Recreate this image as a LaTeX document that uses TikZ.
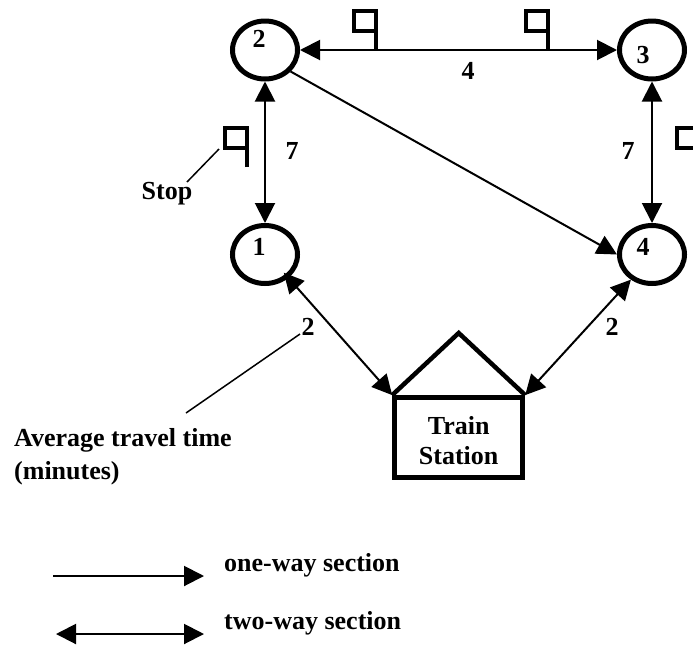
\documentclass[tikz,border=0pt]{standalone}
\usepackage{fontspec}
\setmainfont{Liberation Serif}
\usetikzlibrary{arrows.meta,shapes.geometric}
\tikzset{
  x=1pt,y=-1pt,
  stopnode/.style={draw,ellipse,line width=5pt,minimum width=65pt,minimum height=58pt,inner sep=0pt,outer sep=2.5pt},
  lab/.style={font=\fontsize{26}{30}\selectfont\bfseries,inner sep=0pt,anchor=base},
  labl/.style={lab,anchor=base west},
  oneway/.style={line width=2pt,-{Triangle[length=20pt,width=20pt]}},
  twoway/.style={line width=2pt,{Triangle[length=20pt,width=20pt]}-{Triangle[length=20pt,width=20pt]}},
  flag/.style={line width=4pt,line cap=butt,line join=miter},
  leader/.style={line width=1.5pt},
  house/.style={line width=5pt,line join=miter},
}
\begin{document}
\begin{tikzpicture}
\path[use as bounding box] (0,0) rectangle (693,646);
% stops
\node[stopnode] (c2) at (265,50) {};
\node[stopnode] (c3) at (652,50) {};
\node[stopnode] (c4) at (652,254.5) {};
\node[stopnode] (c1) at (265,254.5) {};
\node[lab] (n2) at (259,47) {2};
\node[lab] (n3) at (643,63) {3};
\node[lab] (n4) at (643,255) {4};
\node[lab] (n1) at (259,255) {1};
% station
\node[draw,house,minimum width=128pt,minimum height=80pt,inner sep=0pt,outer sep=2.5pt] (st) at (458.7,437.6) {};
\node[font=\fontsize{26}{30}\selectfont\bfseries,align=center,inner sep=0pt] (sttext) at (458.7,441) {Train\\Station};
\coordinate (apex) at (458.7,333);
\draw[house,line width=4.5pt] (st.north west) -- (apex) -- (st.north east);
% connectors
\draw[twoway] (c2.east) -- (c3.west);
\draw[twoway] (c3.south) -- (c4.north);
\draw[twoway] (c2.south) -- (c1.north);
\draw[oneway] (c2.-40) -- (c4.west);
\draw[twoway,shorten <=-7pt] (c1.-45) -- (st.north west);
\draw[twoway] (c4.-130) -- (st.north east);
% flags
\coordinate (f1) at (376,50);
\coordinate (f2) at (548,50);
\draw[flag] (f1) -- (376,11) -- (354,11) -- (354,31) -- (376,31);
\draw[flag] (f2) -- (548,11) -- (526,11) -- (526,31) -- (548,31);
\draw[flag] (247,167) -- (247,128) -- (225,128) -- (225,148) -- (247,148);
\draw[flag] (693,128) -- (677,128) -- (677,148) -- (693,148);
% labels
\node[lab] (l7a) at (292,159) {7};
\node[lab] (l4) at (468,79) {4};
\node[lab] (l7b) at (628,159) {7};
\node[lab] (l2a) at (308,335) {2};
\node[lab] (l2b) at (612,335) {2};
\node[lab] (stoplab) at (167,199) {Stop};
\node[labl] (avg) at (14,446) {Average travel time};
\node[labl] (mins) at (14,479) {(minutes)};
\coordinate (sf) at (219,149);
\coordinate (se) at (187,182);
\draw[leader] (sf) -- (se);
\coordinate (af) at (300,334);
\coordinate (ae) at (186,413);
\draw[leader] (af) -- (ae);
% legend
\coordinate (o1) at (53,576);
\coordinate (o2) at (204,576);
\coordinate (t1) at (56,634);
\coordinate (t2) at (204,634);
\draw[oneway] (o1) -- (o2);
\draw[twoway] (t1) -- (t2);
\node[labl] (ow) at (224,571) {one-way section};
\node[labl] (tw) at (224,629) {two-way section};
\end{tikzpicture}
\end{document}
